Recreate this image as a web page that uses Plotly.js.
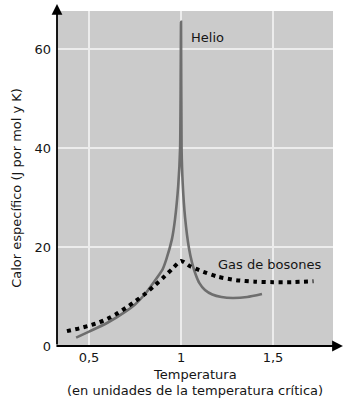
<!DOCTYPE html>
<html>
<head>
<meta charset="utf-8">
<script src="https://cdn.plot.ly/plotly-3.0.1.min.js"></script>
<style>html,body{margin:0;padding:0;background:#fff;}#chart{width:345px;height:400px;}</style>
</head>
<body>
<div id="chart"></div>
<script>
// Helio (specific heat, lambda transition)
var helioT = [0.43, 0.5, 0.6, 0.7, 0.75, 0.8, 0.85, 0.9, 0.92, 0.95, 0.967, 0.985, 0.995, 1.0, 1.003, 1.009, 1.022, 1.043, 1.06, 1.08, 1.1, 1.13, 1.17, 1.22, 1.28, 1.36, 1.44];
var helioC = [1.7, 2.9, 4.7, 7.0, 8.4, 10.3, 12.8, 15.5, 17.5, 21.5, 25.5, 32.5, 40, 65.5, 40, 33, 26, 19.8, 16.8, 14.4, 12.7, 11.3, 10.4, 9.9, 9.7, 9.9, 10.5];
// Gas de bosones
var bosonT = [0.38, 0.45, 0.5, 0.55, 0.6, 0.65, 0.7, 0.75, 0.8, 0.85, 0.9, 0.95, 1.0, 1.05, 1.1, 1.2, 1.3, 1.4, 1.5, 1.6, 1.72];
var bosonC = [3.0, 3.6, 4.1, 4.7, 5.5, 6.5, 7.7, 9.0, 10.4, 12.0, 13.7, 15.5, 17.2, 16.1, 15.3, 14.0, 13.3, 13.0, 12.9, 12.9, 13.1];
// Ticks
var xTickVals = [0.5, 1, 1.5];
var xTickText = ['0,5', '1', '1,5'];
var yTickVals = [0, 20, 40, 60];
var yTitle = 'Calor\u00a0específico\u00a0(J\u00a0por\u00a0mol\u00a0y\u00a0K)';

var FONT = '"DejaVu Sans", "Open Sans", sans-serif';
var TXT = '#151515';

var traces = [
  {x: helioT, y: helioC, type: 'scatter', mode: 'lines', line: {color: '#6e6e6e', width: 2.6, shape: 'spline', smoothing: 0.6}, hoverinfo: 'none'},
  {x: bosonT, y: bosonC, type: 'scatter', mode: 'lines', line: {color: '#000000', width: 4, dash: '4px,4.5px', shape: 'spline', smoothing: 0.6}, hoverinfo: 'none'}
];

var layout = {
  width: 345, height: 400,
  margin: {l: 57, r: 12, t: 11, b: 54},
  paper_bgcolor: '#ffffff',
  plot_bgcolor: '#cbcbcb',
  showlegend: false,
  font: {family: FONT, size: 13, color: TXT},
  xaxis: {
    range: [0.326, 1.826],
    tickvals: xTickVals, ticktext: xTickText,
    showgrid: true, gridcolor: '#ececec', gridwidth: 1.5,
    zeroline: false, showline: false, ticks: '',
    ticklabelstandoff: 2,
    tickfont: {family: FONT, size: 13, color: TXT}
  },
  yaxis: {
    range: [0, 67.7],
    tickvals: yTickVals,
    showgrid: true, gridcolor: '#ececec', gridwidth: 1.5,
    zeroline: false, showline: false, ticks: '',
    ticklabelstandoff: 5,
    tickfont: {family: FONT, size: 13, color: TXT}
  },
  annotations: [
    {xref: 'paper', yref: 'paper', x: 0, y: 1.021, ax: 0, ay: 342, axref: 'pixel', ayref: 'pixel', text: '', showarrow: true, arrowhead: 2, arrowsize: 1.2, arrowwidth: 1.8, arrowcolor: '#000', standoff: 0, startstandoff: 0},
    {xref: 'paper', yref: 'paper', x: 1.036, y: 0, ax: -288, ay: 0, text: '', showarrow: true, arrowhead: 2, arrowsize: 1.2, arrowwidth: 1.8, arrowcolor: '#000', standoff: 0, startstandoff: 0},
    {xref: 'x', yref: 'y', x: 1.045, y: 62.4, text: 'Helio', showarrow: false, xanchor: 'left', yanchor: 'middle', font: {family: FONT, size: 13, color: TXT}},
    {xref: 'x', yref: 'y', x: 1.19, y: 16.4, text: 'Gas de bosones', showarrow: false, xanchor: 'left', yanchor: 'middle', font: {family: FONT, size: 13, color: TXT}},
    {xref: 'paper', yref: 'paper', x: -0.145, y: 0.472, text: yTitle, textangle: -90, showarrow: false, xanchor: 'center', yanchor: 'middle', font: {family: FONT, size: 13, color: TXT}},
    {xref: 'paper', yref: 'paper', x: 0.5, y: -0.084, text: 'Temperatura', showarrow: false, xanchor: 'center', yanchor: 'middle', font: {family: FONT, size: 13, color: TXT}},
    {xref: 'paper', yref: 'paper', x: 0.5, y: -0.134, text: '(en unidades de la temperatura crítica)', showarrow: false, xanchor: 'center', yanchor: 'middle', font: {family: FONT, size: 13, color: TXT}}
  ]
};

Plotly.newPlot('chart', traces, layout, {displayModeBar: false, staticPlot: true});
</script>
</body>
</html>
